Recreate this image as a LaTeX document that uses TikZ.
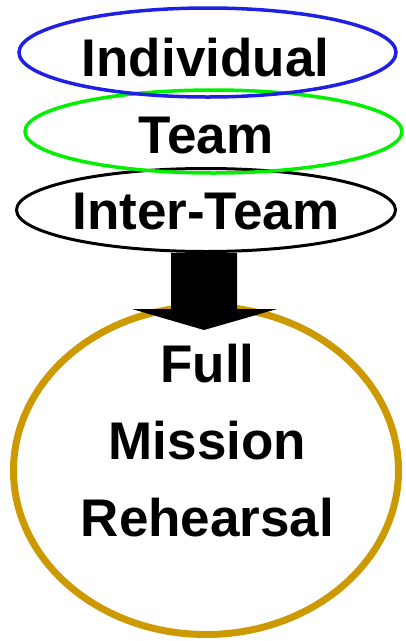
\documentclass[tikz,border=0pt]{standalone}
\usepackage{fontspec}
\setmainfont{Liberation Sans}
\usetikzlibrary{shapes.geometric}

\definecolor{ringblue}{RGB}{32,32,228}
\definecolor{ringgreen}{RGB}{0,240,0}
\definecolor{ringgold}{RGB}{204,153,0}

\tikzset{
  ring/.style={ellipse, draw=#1, line width=3.5pt, inner sep=0pt},
  caption/.style={font=\fontsize{53}{77}\selectfont\bfseries, inner sep=0pt, align=center}
}

\begin{document}
\begin{tikzpicture}[x=1pt, y=-1pt]
    \useasboundingbox (0,0) rectangle (405,641);

    \node[ring=ringgold, line width=7pt, minimum width=385pt, minimum height=328pt] (mission) at (206,470.5) {};
    \node[ring=black, line width=3pt, minimum width=379pt, minimum height=83pt] (interteam) at (206,210) {};
    \node[ring=ringgreen, minimum width=377pt, minimum height=83pt] (team) at (213.5,131.5) {};
    \node[ring=ringblue, minimum width=377pt, minimum height=89pt] (individual) at (207.5,52.5) {};

    \node[caption, anchor=base] (individualtext) at (205.5,76) {Individual};
    \node[caption, anchor=base] (teamtext) at (206,153) {Team};
    \node[caption, anchor=base] (intertext) at (206,229) {Inter-Team};
    \node[caption] (missiontext) at (207.5,441) {Full\\Mission\\Rehearsal};

    % block arrow from the inter-team ring into the big one
    \coordinate (shafttop) at (interteam.south);
    \fill[black] (shafttop) ++(-35,0) -- ++(66,0) -- ++(0,56) -- ++(40,0)
      -- ++(-73,21) -- ++(-72,-21) -- ++(39,0) -- cycle;
\end{tikzpicture}
\end{document}
